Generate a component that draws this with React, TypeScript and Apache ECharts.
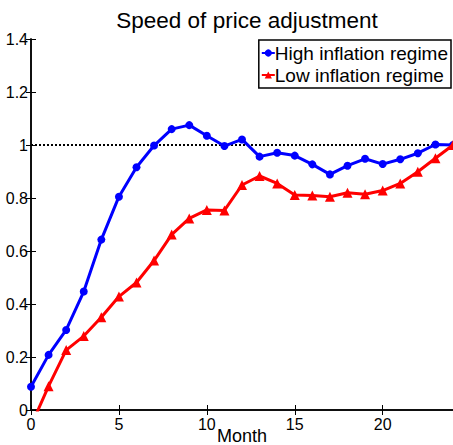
import React, { useEffect, useRef } from "react";
import * as echarts from "echarts";

const months = [0, 1, 2, 3, 4, 5, 6, 7, 8, 9, 10, 11, 12, 13, 14, 15, 16, 17, 18, 19, 20, 21, 22, 23, 24];
const highInflation = [0.088, 0.208, 0.302, 0.447, 0.643, 0.805, 0.916, 0.998, 1.06, 1.075, 1.035, 0.996, 1.021, 0.956, 0.971, 0.96, 0.927, 0.889, 0.922, 0.948, 0.928, 0.946, 0.969, 1.002, 1.0];
const lowInflation = [-0.06, 0.09, 0.226, 0.279, 0.35, 0.428, 0.481, 0.564, 0.662, 0.723, 0.755, 0.753, 0.849, 0.883, 0.855, 0.811, 0.809, 0.805, 0.82, 0.814, 0.828, 0.855, 0.899, 0.95, 1.0];
const seriesNames = ["High inflation regime", "Low inflation regime"];
const titleText = "Speed of price adjustment";
const xLabel = "Month";

const FONT = "'Liberation Sans', Arial, Helvetica, sans-serif";

export default function App() {
  const ref = useRef<HTMLDivElement>(null);

  useEffect(() => {
    document.body.style.margin = "0";
    if (!ref.current) return;
    const chart = echarts.init(ref.current, null, { renderer: "svg" });

    const pairs = (ys: number[]) =>
      months.map((m, i) =>
        // points below the visible range keep their line segment but no marker
        ys[i] < 0 ? { value: [m, ys[i]], symbol: "none" } : [m, ys[i]]
      );

    const axisLine = { show: true, lineStyle: { color: "#000", width: 1.5 } };
    const tick = { show: true, inside: true, length: 5, lineStyle: { color: "#000", width: 1 } };

    chart.setOption({
      animation: false,
      backgroundColor: "#fff",
      title: {
        text: titleText,
        left: 242,
        textAlign: "center",
        top: 4,
        textStyle: { fontFamily: FONT, fontSize: 22.5, fontWeight: "normal", color: "#000" },
      },
      grid: { left: 31, right: 0, top: 39, bottom: 35, containLabel: false, outerBoundsMode: "none" },
      legend: {
        orient: "vertical",
        right: 2,
        top: 40,
        backgroundColor: "#fff",
        borderColor: "#000",
        borderWidth: 1.5,
        borderRadius: 0,
        padding: [3, 3, 3, 2],
        itemGap: 2,
        itemWidth: 13,
        itemHeight: 9,
        textStyle: { fontFamily: FONT, fontSize: 19, lineHeight: 20, color: "#000", padding: [0, 0, 0, -5] },
        data: seriesNames,
      },
      xAxis: [
        {
          type: "value",
          min: 0,
          max: 24,
          interval: 5,
          name: xLabel,
          nameLocation: "middle",
          nameGap: 17,
          nameMoveOverlap: false,
          nameTextStyle: { fontFamily: FONT, fontSize: 18, lineHeight: 17, color: "#000", verticalAlign: "top" },
          axisLine,
          axisTick: tick,
          axisLabel: { fontFamily: FONT, fontSize: 16, color: "#000", margin: 6, showMaxLabel: false },
          splitLine: { show: false },
        },
        {
          type: "value",
          position: "top",
          min: 0,
          max: 24,
          interval: 5,
          axisLine,
          axisTick: tick,
          axisLabel: { show: false },
          splitLine: { show: false },
        },
      ],
      yAxis: [
        {
          type: "value",
          min: 0,
          max: 1.4,
          interval: 0.2,
          axisLine,
          axisTick: tick,
          axisLabel: { fontFamily: FONT, fontSize: 16, color: "#000", margin: 3 },
          splitLine: { show: false },
        },
        {
          type: "value",
          position: "right",
          min: 0,
          max: 1.4,
          interval: 0.2,
          axisLine,
          axisTick: tick,
          axisLabel: { show: false },
          splitLine: { show: false },
        },
      ],
      series: [
        {
          name: seriesNames[0],
          type: "line",
          data: pairs(highInflation),
          color: "#0000ff",
          lineStyle: { width: 3, color: "#0000ff" },
          symbol: "circle",
          symbolSize: 8,
          itemStyle: { color: "#0000ff" },
          clip: true,
          z: 3,
          markLine: {
            silent: true,
            symbol: "none",
            label: { show: false },
            lineStyle: { type: [2, 2], color: "#000", width: 2.2 },
            data: [{ yAxis: 1 }],
            z: 2,
          },
        },
        {
          name: seriesNames[1],
          type: "line",
          data: pairs(lowInflation),
          color: "#ff0000",
          lineStyle: { width: 3, color: "#ff0000" },
          symbol: "triangle",
          symbolSize: 10,
          itemStyle: { color: "#ff0000" },
          clip: true,
          z: 4,
        },
      ],
    });

    return () => chart.dispose();
  }, []);

  return <div ref={ref} style={{ width: 453, height: 445 }} />;
}
